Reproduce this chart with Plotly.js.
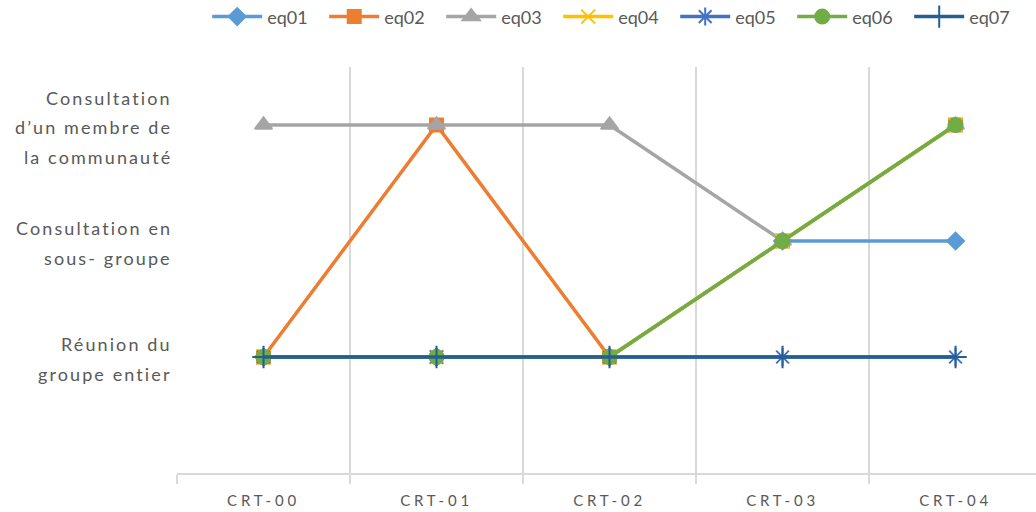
<!DOCTYPE html>
<html>
<head>
<meta charset="utf-8">
<script src="https://cdn.plot.ly/plotly-3.0.1.min.js"></script>
<style>
html,body{margin:0;padding:0;background:#fff;}
#chart{width:1036px;height:512px;}
.annotation-text{letter-spacing:2.1px;}
.xtick text{letter-spacing:3.8px;}
</style>
</head>
<body>
<div id="chart"></div>
<script>
const categories = ['CRT-00','CRT-01','CRT-02','CRT-03','CRT-04'];
const seriesNames = ['eq01','eq02','eq03','eq04','eq05','eq06','eq07'];
const eq01 = [1,1,1,2,2];
const eq02 = [1,3,1,2,3];
const eq03 = [3,3,3,2,3];
const eq04 = [1,1,1,2,3];
const eq05 = [1,1,1,1,1];
const eq06 = [1,1,1,2,3];
const eq07 = [1,1,1,1,1];
const yLevels = [1,2,3];
const yLevelLabels = [
  ['Réunion du','groupe entier'],
  ['Consultation en','sous- groupe'],
  ['Consultation','d’un membre de','la communauté']
];

const seriesValues = [eq01,eq02,eq03,eq04,eq05,eq06,eq07];
const colors = ['#5B9BD5','#ED7D31','#A5A5A5','#FFC000','#4472C4','#70AD47','#255E91'];
const symbols = ['diamond','square','triangle-up','x-thin-open','asterisk-open','circle','cross-thin-open'];
const sizes = [13,13,15,14,15,14,16];

const traces = seriesNames.map((n,i)=>({
  type:'scatter', mode:'lines+markers', name:n,
  x:categories, y:seriesValues[i],
  line:{color:colors[i], width:3.5},
  marker:{symbol:symbols[i], size:sizes[i], color:colors[i], line:{color:colors[i], width:2}}
}));

const annotations = [];
yLevels.forEach((lv,k)=>{
  const lines = yLevelLabels[k];
  const n = lines.length;
  lines.forEach((t,j)=>{
    annotations.push({
      xref:'paper', yref:'y', x:0, y:lv, xanchor:'right', yanchor:'middle',
      xshift:-3, yshift: -((j-(n-1)/2)*29.5) - 2,
      text:t, showarrow:false,
      font:{family:'Lato, sans-serif', size:18, color:'#595959'}
    });
  });
});

const layout = {
  width:1036, height:512,
  margin:{l:177, r:0, t:67, b:39},
  paper_bgcolor:'#fff', plot_bgcolor:'#fff',
  showlegend:true,
  legend:{orientation:'h', xref:'container', yref:'container', x:0.2, xanchor:'left', y:0.967, yanchor:'middle',
    itemwidth:50, entrywidth:52, font:{family:'Lato, sans-serif', size:18, color:'#595959'}, traceorder:'normal'},
  xaxis:{type:'category', range:[-0.5,4.465], tickson:'boundaries', showgrid:true, gridcolor:'#D9D9D9', gridwidth:1.5,
    showline:true, linecolor:'#D9D9D9', linewidth:1.5, ticks:'outside', ticklen:9, tickcolor:'#D9D9D9', tickwidth:1.5,
    ticklabelstandoff:13,
    tickfont:{family:'Lato, sans-serif', size:15, color:'#595959'}, zeroline:false, fixedrange:true},
  yaxis:{range:[0,3.5], showgrid:false, zeroline:false, showline:false, showticklabels:false, ticks:'', fixedrange:true},
  annotations:annotations
};

Plotly.newPlot('chart', traces, layout, {displayModeBar:false, staticPlot:true});
</script>
</body>
</html>
